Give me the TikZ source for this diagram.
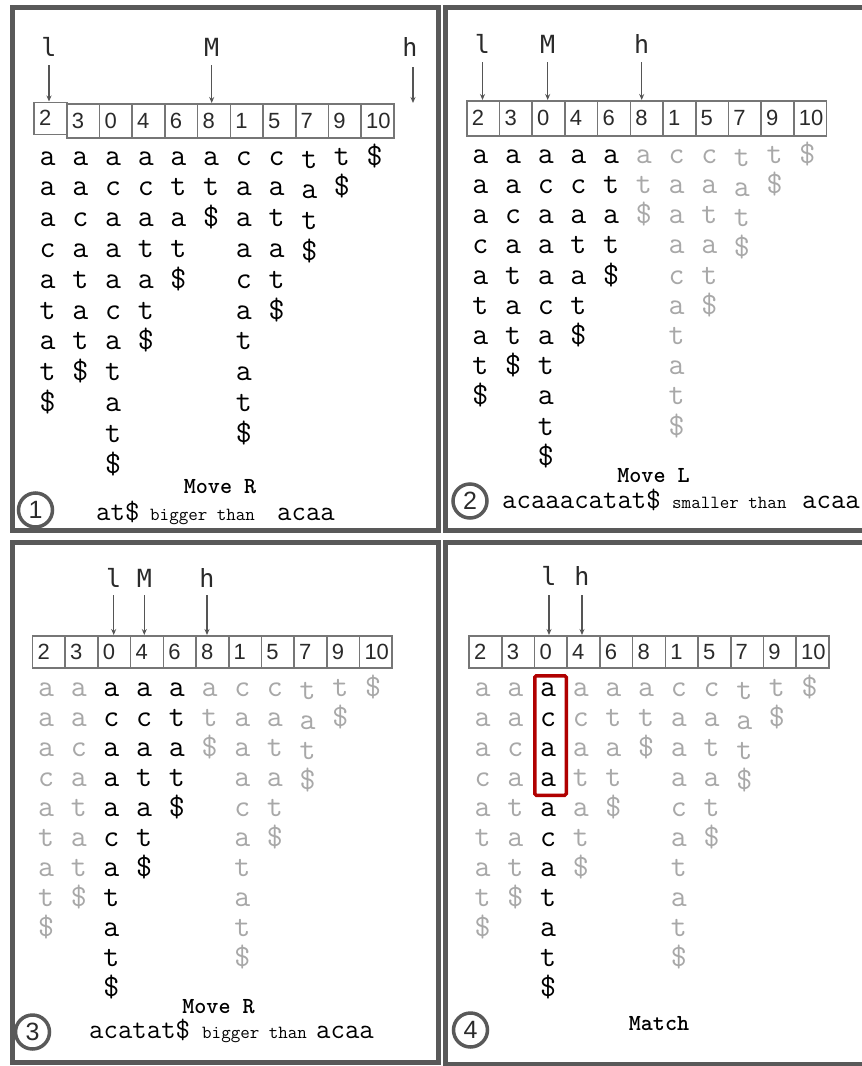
\documentclass[tikz,border=0pt]{standalone}
\usepackage{fontspec}
\usetikzlibrary{arrows.meta}
\newfontfamily\digfont{Liberation Sans}
\newfontfamily\lblfont{DejaVu Sans Mono}
\definecolor{framec}{HTML}{595959}
\definecolor{boxc}{HTML}{767676}
\definecolor{lite}{HTML}{A8A8A8}
\definecolor{ptrc}{HTML}{555555}
\definecolor{darktxt}{HTML}{2A2A2A}
\definecolor{matchred}{HTML}{B00000}
\tikzset{
  panel/.style={draw=framec, line width=5pt},
  cell/.style={draw=boxc, line width=1.6pt, minimum width=32.7pt, inner xsep=5pt, inner ysep=0pt,
    text width=22.7pt, align=left, anchor=north west, text=darktxt,
    font=\digfont\fontsize{22}{22}\selectfont},
  glyph/.style={anchor=base, inner sep=0pt, font=\ttfamily\fontsize{31}{31}\selectfont},
  lbl/.style={anchor=base, inner sep=0pt, text=darktxt, font=\lblfont\fontsize{25}{25}\selectfont},
  ptr/.style={draw=ptrc, line width=1.3pt, -{Stealth[length=6pt,width=5pt]}},
  capb/.style={anchor=base, inner sep=0pt, font=\ttfamily\bfseries\fontsize{23}{23}\selectfont},
  capbig/.style={anchor=base west, inner sep=0pt, font=\ttfamily\fontsize{28}{28}\selectfont},
  capsm/.style={anchor=base west, inner sep=0pt, font=\ttfamily\fontsize{18.5}{18.5}\selectfont},
  num/.style={circle, draw=framec, line width=3.5pt, minimum size=34pt, inner sep=0pt, fill=white,
    text=darktxt, font=\digfont\fontsize{25}{25}\selectfont},
  matchbox/.style={draw=matchred, line width=3.5pt, rounded corners=1.5pt, inner sep=0pt}
}
% prefix, x0, ytop, height, first index drawn
\newcommand\sarray[5]{%
  \foreach \v [count=\i] in {2,3,0,4,6,8,1,5,7,9,10}{%
    \ifnum\i<#5\relax\else
      \node[cell, minimum height=#4] (#1b\i) at ({#2+32.7*(\i-1)}, #3) {\v};
    \fi
  }}
% prefix, x0, first baseline, row step, first black column, last black column
\newcommand\sgrid[6]{%
  \foreach \col [count=\i] in {{a,a,a,c,a,t,a,t,\$},{a,a,c,a,t,a,t,\$},{a,c,a,a,a,c,a,t,a,t,\$},{a,c,a,t,a,t,\$},{a,t,a,t,\$},{a,t,\$},{c,a,a,a,c,a,t,a,t,\$},{c,a,t,a,t,\$},{t,a,t,\$},{t,\$},{\$}}{%
    \pgfmathtruncatemacro\blk{((\i>=#5)&&(\i<=#6))?1:0}%
    \ifnum\blk=1 \def\tc{black}\else\def\tc{lite}\fi
    \pgfmathsetmacro\cx{#2+32.7*(\i-0.5)-2}%
    \pgfmathsetmacro\sh{\i==9?3:0}%
    \foreach \ch [count=\j] in \col {%
      \node[glyph, text=\tc] (#1g\i-\j) at (\cx, {#3+#4*(\j-1)+\sh}) {\ch};
    }
  }}
\begin{document}
\begin{tikzpicture}[x=1pt, y=-1pt]
\useasboundingbox (0,0) rectangle (862,1066);
\begin{scope}
\clip (0,0) rectangle (862,1066);
% frames
\draw[panel] (12.5,7.5) rectangle (438.5,530.5);
\draw[panel] (445.5,7.5) rectangle (880,530.5);
\draw[panel] (12.5,542) rectangle (438.5,1062);
\draw[panel] (445.5,542) rectangle (880,1064);

% ---------- panel 1 ----------
\sarray{p1}{33.3}{103}{34pt}{2}
\node[cell, minimum height=32pt] (p1b1) at (33.3,101.5) {2};
\sgrid{p1}{33.3}{165}{30.8}{1}{11}
\node[lbl] (p1l) at (49,56) {l};
\node[lbl] (p1m) at (211.7,56) {M};
\node[lbl] (p1h) at (410,56) {h};
\coordinate (p1hs) at (413,67);
\coordinate (p1he) at (413,103);
\draw[ptr] ([yshift=-9pt]p1l.south) -- (p1l.south |- p1b1.north);
\draw[ptr] ([yshift=-9pt]p1m.south) -- (p1m.south |- p1b6.north);
\draw[ptr] (p1hs) -- (p1he);
\node[capb] (p1mv) at (220,493) {Move R};
\node[capbig] (p1s) at (96,520) {at\$};
\node[capsm] (p1t) at (150,520) {bigger than};
\node[capbig] (p1p) at (277,520) {acaa};
\node[num] (p1n) at (35.5,510) {1};

% ---------- panel 2 ----------
\sarray{p2}{466}{100}{35pt}{1}
\sgrid{p2}{466}{163.3}{30.2}{1}{5}
\node[lbl] (p2l) at (482.5,53) {l};
\node[lbl] (p2m) at (547.7,53) {M};
\node[lbl] (p2h) at (641.7,53) {h};
\draw[ptr] ([yshift=-9pt]p2l.south) -- (p2l.south |- p2b1.north);
\draw[ptr] ([yshift=-9pt]p2m.south) -- (p2m.south |- p2b3.north);
\draw[ptr] ([yshift=-9pt]p2h.south) -- (p2h.south |- p2b6.north);
\node[capb] (p2mv) at (653.5,482) {Move L};
\node[capbig] (p2s) at (502,508) {acaaacatat\$};
\node[capsm] (p2t) at (672,508) {smaller than};
\node[capbig] (p2p) at (802,508) {acaa};
\node[num] (p2n) at (470,501) {2};

% ---------- panel 3 ----------
\sarray{p3}{31.7}{635}{32pt}{1}
\sgrid{p3}{31.7}{696.7}{30.0}{3}{5}
\node[lbl] (p3l) at (113.7,587) {l};
\node[lbl] (p3m) at (144.3,587) {M};
\node[lbl] (p3h) at (207,587) {h};
\draw[ptr] ([yshift=-8pt]p3l.south) -- (p3l.south |- p3b3.north);
\draw[ptr] ([yshift=-8pt]p3m.south) -- (p3m.south |- p3b4.north);
\draw[ptr] ([yshift=-8pt]p3h.south) -- (p3h.south |- p3b6.north);
\node[capb] (p3mv) at (218.5,1013) {Move R};
\node[capbig] (p3s) at (89,1038) {acatat\$};
\node[capsm] (p3t) at (202,1038) {bigger than};
\node[capbig] (p3p) at (316,1038) {acaa};
\node[num] (p3n) at (32.5,1032) {3};

% ---------- panel 4 ----------
\sarray{p4}{468.3}{635}{32pt}{1}
\sgrid{p4}{468.3}{696.7}{30.0}{3}{3}
\node[lbl] (p4l) at (549,585) {l};
\node[lbl] (p4h) at (582,585) {h};
\draw[ptr] ([yshift=-10pt]p4l.south) -- (p4l.south |- p4b3.north);
\draw[ptr] ([yshift=-10pt]p4h.south) -- (p4h.south |- p4b4.north);
\node[matchbox, minimum width=31.5pt, minimum height=119.5pt] (p4match) at (550.5,735.5) {};
\node[capb] (p4mv) at (659,1030) {Match};
\node[num] (p4n) at (470.5,1030) {4};
\end{scope}
\end{tikzpicture}
\end{document}
